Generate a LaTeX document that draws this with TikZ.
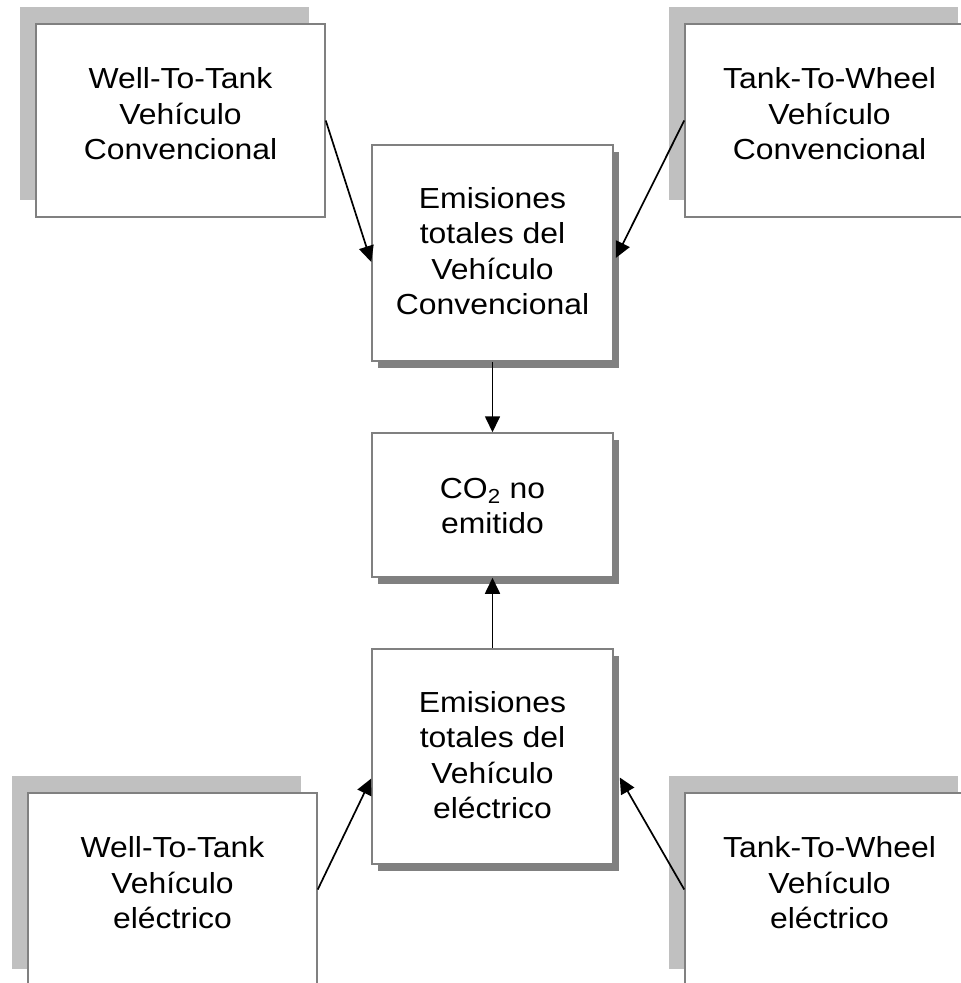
\documentclass[tikz,border=0pt]{standalone}
\usepackage{fontspec}
\setmainfont[FakeStretch=1.1]{Liberation Sans}
\usetikzlibrary{shadows,arrows.meta}
\definecolor{boxline}{HTML}{808080}
\definecolor{shadowlight}{HTML}{C0C0C0}
\definecolor{shadowdark}{HTML}{808080}
\tikzset{
  boxbase/.style={draw=boxline, line width=1.5pt, fill=white, inner sep=0pt},
  cornerbox/.style={boxbase, minimum width=289pt, minimum height=193pt,
    general shadow={shadow xshift=-16pt, shadow yshift=17pt, fill=shadowlight}},
  centerbox/.style={boxbase, minimum width=241pt,
    general shadow={shadow xshift=6pt, shadow yshift=-7pt, fill=shadowdark}},
  label/.style={align=center, font=\fontsize{29}{35.5}\selectfont, inner sep=0pt},
  conn/.style={line width=1.7pt, -{Triangle[length=16pt,width=15pt]}}
}
\begin{document}
\begin{tikzpicture}[x=1pt,y=-1pt]
\useasboundingbox (0,0) rectangle (961,983);
% corner boxes
\node[cornerbox] (wttc) at (180.5,120.5) {};
\node[cornerbox] (ttwc) at (829.5,120.5) {};
\node[cornerbox] (wtte) at (172.5,889.5) {};
\node[cornerbox] (ttwe) at (829.5,889.5) {};
% center boxes
\node[centerbox, minimum height=216pt] (emc) at (492.5,253) {};
\node[centerbox, minimum height=144pt] (co2) at (492.5,505) {};
\node[centerbox, minimum height=215pt] (eme) at (492.5,756.5) {};
% texts
\node[label] (wttcT) at (180.5,114) {Well-To-Tank\\Vehículo\\Convencional};
\node[label] (ttwcT) at (829.5,114) {Tank-To-Wheel\\Vehículo\\Convencional};
\node[label] (wtteT) at (172.5,883) {Well-To-Tank\\Vehículo\\eléctrico};
\node[label] (ttweT) at (829.5,883) {Tank-To-Wheel\\Vehículo\\eléctrico};
\node[label] (emcT) at (492.5,251) {Emisiones\\totales del\\Vehículo\\Convencional};
\node[label] (co2T) at (492.5,506) {CO\textsubscript{2} no\\emitido};
\node[label] (emeT) at (492.5,755) {Emisiones\\totales del\\Vehículo\\eléctrico};
% connectors
\draw[conn] (wttc.east) -- ([yshift=-9pt]emc.west);
\draw[conn] (ttwc.west) -- ([xshift=2pt,yshift=-5pt]emc.east);
\draw[conn] (emc.south) -- (co2.north);
\draw[conn] (eme.north) -- (co2.south);
\draw[conn] (wtte.east) -- ([yshift=-22pt]eme.west);
\draw[conn] (ttwe.west) -- ([xshift=6pt,yshift=-21pt]eme.east);
\end{tikzpicture}
\end{document}
